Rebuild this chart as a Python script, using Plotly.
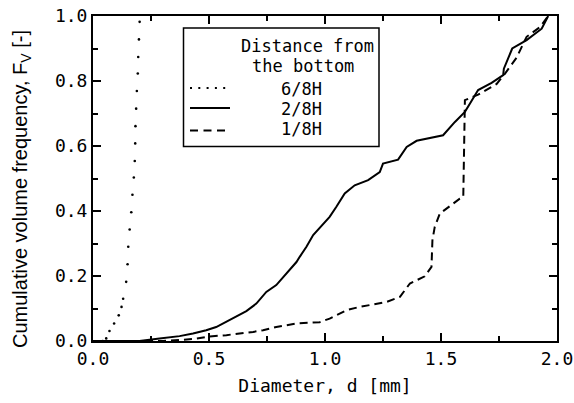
import plotly.graph_objects as go

# ---- data ----
d_68 = [0.042, 0.057, 0.071, 0.091, 0.111, 0.123, 0.130, 0.143, 0.149, 0.152, 0.158, 0.165,
        0.170, 0.176, 0.180, 0.182, 0.183, 0.186, 0.189, 0.193, 0.195, 0.198, 0.201]
F_68 = [0.0, 0.008, 0.031, 0.054, 0.079, 0.105, 0.130, 0.182, 0.236, 0.290, 0.343, 0.396,
        0.450, 0.503, 0.554, 0.608, 0.661, 0.715, 0.769, 0.823, 0.874, 0.928, 0.982]

d_28 = [0.0, 0.2, 0.287, 0.373, 0.431, 0.488, 0.531, 0.575, 0.618, 0.661, 0.704, 0.747, 0.790,
        0.834, 0.877, 0.891, 0.920, 0.949, 0.985, 1.020, 1.049, 1.085, 1.128, 1.186, 1.236,
        1.250, 1.315, 1.352, 1.395, 1.509, 1.560, 1.603, 1.625, 1.653, 1.660, 1.718, 1.768,
        1.771, 1.807, 1.869, 1.934, 1.962]
F_28 = [0.0, 0.0, 0.008, 0.015, 0.023, 0.033, 0.043, 0.059, 0.076, 0.092, 0.115, 0.151, 0.172,
        0.208, 0.243, 0.259, 0.290, 0.326, 0.356, 0.382, 0.413, 0.454, 0.479, 0.495, 0.520,
        0.546, 0.558, 0.597, 0.616, 0.633, 0.674, 0.705, 0.731, 0.762, 0.772, 0.794, 0.818,
        0.838, 0.900, 0.926, 0.961, 1.0]

d_18 = [0.0, 0.3, 0.431, 0.503, 0.575, 0.618, 0.69, 0.733, 0.790, 0.877, 0.977, 1.020, 1.093,
        1.150, 1.265, 1.323, 1.366, 1.430, 1.459, 1.463, 1.473, 1.495, 1.524, 1.581, 1.596,
        1.603, 1.660, 1.740, 1.776, 1.797, 1.826, 1.869, 1.927, 1.962]
F_18 = [0.0, 0.0, 0.006, 0.014, 0.018, 0.021, 0.028, 0.033, 0.043, 0.054, 0.058, 0.069, 0.095,
        0.105, 0.120, 0.136, 0.177, 0.199, 0.228, 0.310, 0.351, 0.392, 0.408, 0.438, 0.443,
        0.741, 0.758, 0.791, 0.823, 0.843, 0.872, 0.936, 0.966, 1.0]

legend_title = ["Distance from", "the bottom"]
legend_labels = ["6/8H", "2/8H", "1/8H"]
x_title = "Diameter, d [mm]"
y_title = "Cumulative volume frequency, F<sub>V</sub> [-]"

MONO = "DejaVu Sans Mono"
W, H = 574, 403
L, R, T, B = 93, 17, 16, 62
PW, PH = W - L - R, H - T - B


def px(x):
    return (x - L) / PW


def py(y):
    return (H - B - y) / PH


fig = go.Figure()
fig.add_trace(go.Scatter(x=d_68, y=F_68, mode="markers", name=legend_labels[0],
                         marker=dict(color="black", size=2.6), showlegend=False))
fig.add_trace(go.Scatter(x=d_28, y=F_28, mode="lines", name=legend_labels[1],
                         line=dict(color="black", width=2), showlegend=False))
fig.add_trace(go.Scatter(x=d_18, y=F_18, mode="lines", name=legend_labels[2],
                         line=dict(color="black", width=2, dash="8px,5px"), showlegend=False))

axis_common = dict(showline=True, linecolor="black", linewidth=2, mirror="ticks",
                   ticks="inside", ticklen=8, tickwidth=1.5, tickcolor="black",
                   showgrid=False, zeroline=False, tickformat=".1f", automargin=False,
                   tickfont=dict(family=MONO, size=18, color="black"))

fig.update_xaxes(range=[0, 2], dtick=0.5, tick0=0,
                 minor=dict(dtick=0.25, ticks="inside", ticklen=5, tickwidth=1.5, tickcolor="black"),
                 title=dict(text=x_title, font=dict(family=MONO, size=18, color="black"),
                            standoff=12),
                 **axis_common)
fig.update_yaxes(range=[0, 1], dtick=0.2, tick0=0,
                 minor=dict(dtick=0.1, ticks="inside", ticklen=5, tickwidth=1.5, tickcolor="black"),
                 **axis_common)

# y-axis title placed as rotated text
fig.add_annotation(text=y_title, xref="paper", yref="paper", x=px(21), y=py(189),
                   xanchor="center", yanchor="middle", textangle=-90, showarrow=False,
                   font=dict(family="Liberation Sans", size=20, color="black"))

# ---- legend box drawn by hand ----
fig.add_shape(type="rect", xref="paper", yref="paper",
              x0=px(183.5), x1=px(379), y0=py(146.5), y1=py(28),
              line=dict(color="black", width=1.5), fillcolor="white", layer="above")
samples = [(88, "dot"), (108, "solid"), (130.5, "8px,5.5px")]
for (yy, dash) in samples:
    if dash == "dot":
        fig.add_shape(type="line", xref="paper", yref="paper",
                      x0=px(190), x1=px(228), y0=py(yy), y1=py(yy),
                      line=dict(color="black", width=2, dash="2px,6.3px"), layer="above")
    else:
        fig.add_shape(type="line", xref="paper", yref="paper",
                      x0=px(190), x1=px(230 if dash == "solid" else 226), y0=py(yy), y1=py(yy),
                      line=dict(color="black", width=2, dash=dash), layer="above")

for txt, cx, cy in [(legend_title[0], 307, 45.5), (legend_title[1], 302.5, 66.5),
                    (legend_labels[0], 301, 89), (legend_labels[1], 301, 108.5),
                    (legend_labels[2], 301, 129)]:
    fig.add_annotation(text=txt, xref="paper", yref="paper", x=px(cx), y=py(cy),
                       xanchor="center", yanchor="middle", showarrow=False,
                       font=dict(family=MONO, size=17, color="black"))

fig.update_layout(width=W, height=H, margin=dict(l=L, r=R, t=T, b=B),
                  paper_bgcolor="white", plot_bgcolor="white", showlegend=False)

fig.write_html("out.html")
